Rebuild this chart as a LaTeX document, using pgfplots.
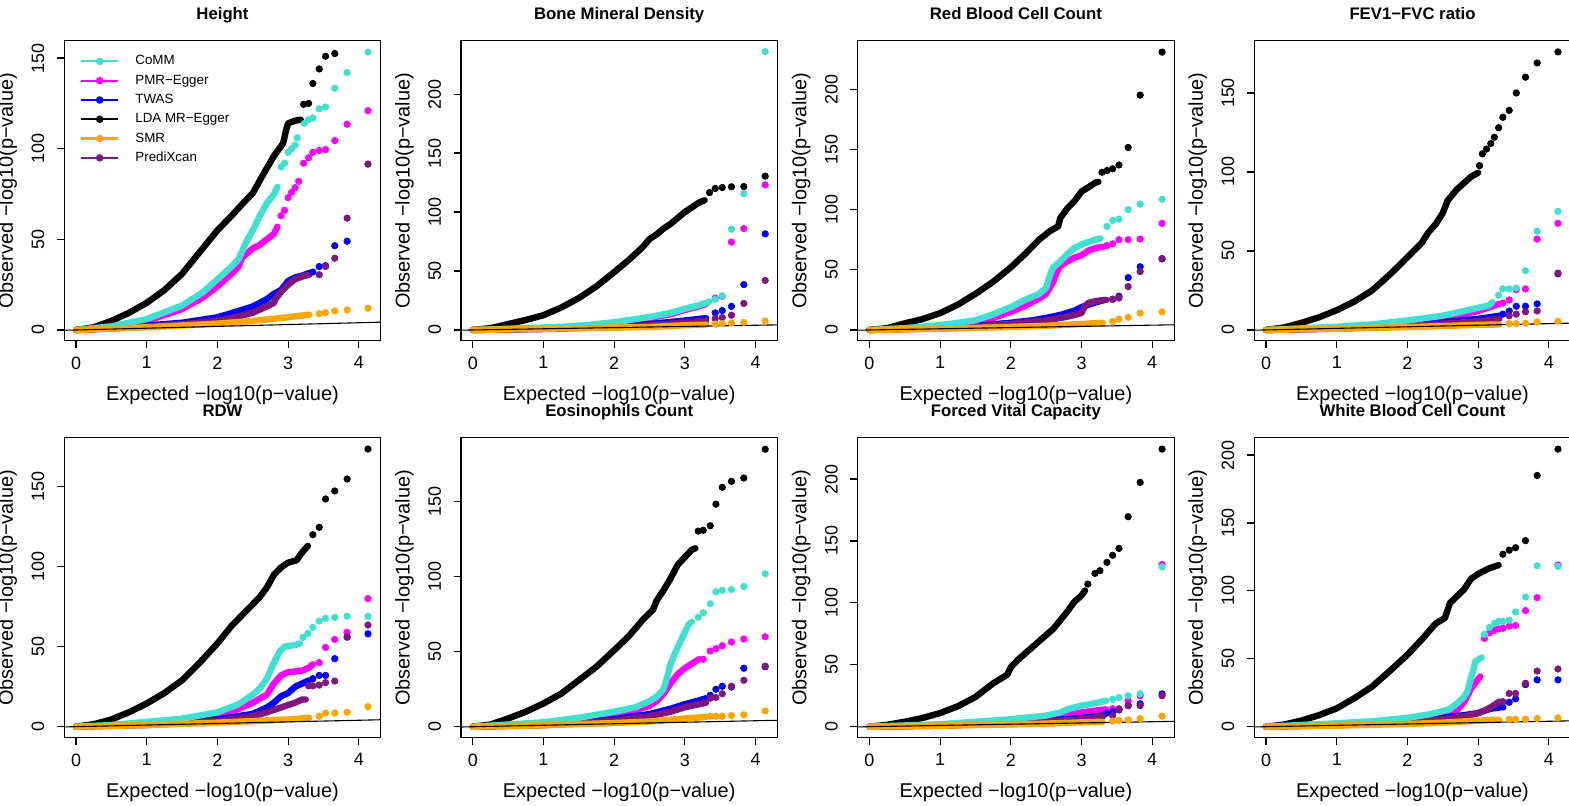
\documentclass[border=0pt]{standalone}
\usepackage{pgfplots}
\pgfplotsset{compat=1.18}
\usepackage{fontspec}
\setmainfont{Liberation Sans}
\definecolor{cCoMM}{RGB}{64,224,208}
\definecolor{cPMR}{RGB}{255,0,255}
\definecolor{cTWAS}{RGB}{0,0,255}
\definecolor{cLDA}{RGB}{0,0,0}
\definecolor{cSMR}{RGB}{255,165,0}
\definecolor{cPX}{RGB}{128,22,128}
\pgfplotsset{
  qq/.style={
    width=158.2bp, height=150bp, scale only axis, anchor=south west,
    xmin=-0.166, xmax=4.31, xtick={0,1,2,3,4},
    tick align=outside, xtick pos=left, ytick pos=left,
    major tick length=3.75bp,
    axis line style={line width=0.6bp},
    every tick/.style={black, line width=0.6bp},
    /pgf/number format/assume math mode=true,
    tick label style={font=\fontsize{9}{10}\selectfont, inner sep=0pt},
    yticklabel style={rotate=90, anchor=south},
    xticklabel style={anchor=north},
    xticklabel shift=4bp, yticklabel shift=6bp,
    xlabel={Expected −log10(p−value)},
    ylabel={Observed −log10(p−value)},
    label style={font=\fontsize{10}{12}\selectfont},
    every axis x label/.style={at={([yshift=-27.5bp]axis description cs:0.5,0)}, anchor=center},
    every axis y label/.style={at={([xshift=-28.25bp]axis description cs:0,0.5)}, rotate=90, anchor=center},
    title style={at={([yshift=4.65bp]axis description cs:0.5,1)}, anchor=base, font=\bfseries\fontsize{8.4}{10}\selectfont},
  },
  dense/.style={no markers, line width=3.2bp, line cap=round, line join=round, forget plot},
  tail/.style={only marks, mark=*, mark size=1.6bp, forget plot},
}
\newcommand{\qq}[3]{%
  \addplot[dense,#1] coordinates {#2};
  \addplot[tail,#1] coordinates {#3};}
\newcommand{\diag}{\addplot[black, line width=0.55bp, forget plot] coordinates {(-0.3,-0.3) (4.5,4.5)};}
\begin{document}
\begin{tikzpicture}
\path[use as bounding box] (0,0) rectangle (784.5bp,403bp);
% ---------- Panel 1: Height ----------
\begin{axis}[qq, at={(32.15bp,232.65bp)}, ymin=-5.9, ymax=159.6, ytick={0,50,100,150}, title={Height},
  legend cell align=left,
  legend image code/.code={\draw[mark repeat=2, mark phase=2, #1] plot coordinates {(0bp,0bp) (9.3bp,0bp) (18.6bp,0bp)};},
  legend style={draw=none, fill=none, inner sep=0pt, outer sep=0pt,
    at={(axis description cs:0,1)}, anchor=north west, xshift=7.85bp, yshift=-6.85bp,
    row sep=2.65bp, font=\fontsize{6.7}{8}\selectfont,
    nodes={inner sep=0pt, text height=5.3bp, text depth=1.7bp},
    /tikz/every odd column/.append style={column sep=8bp}}]
\addlegendimage{cCoMM, line width=1.1bp, mark=*, mark size=1.3bp}\addlegendentry{CoMM}
\addlegendimage{cPMR, line width=1.1bp, mark=*, mark size=1.3bp}\addlegendentry{PMR−Egger}
\addlegendimage{cTWAS, line width=1.1bp, mark=*, mark size=1.3bp}\addlegendentry{TWAS}
\addlegendimage{cLDA, line width=1.1bp, mark=*, mark size=1.3bp}\addlegendentry{LDA MR−Egger}
\addlegendimage{cSMR, line width=1.1bp, mark=*, mark size=1.3bp}\addlegendentry{SMR}
\addlegendimage{cPX, line width=1.1bp, mark=*, mark size=1.3bp}\addlegendentry{PrediXcan}
\qq{cPMR}{(0,0) (0.5,1.5) (1,5) (1.5,11.5) (1.8,18) (2,24) (2.2,31) (2.3,35) (2.35,40) (2.5,45) (2.6,47) (2.7,50) (2.8,53) (2.85,57)}
  {(2.9,63) (2.95,66) (3.0,73) (3.05,76) (3.1,78.5) (3.15,82) (3.22,92) (3.29,95) (3.35,98) (3.44,99) (3.53,99.5) (3.66,104.5) (3.835,113.5) (4.13,121)}
\qq{cTWAS}{(0,0) (0.5,1) (1,2.5) (1.5,4) (2,7) (2.3,10.5) (2.5,13) (2.7,17) (2.8,20) (2.9,22) (3.0,27) (3.1,29) (3.2,30) (3.3,31.5)}
  {(3.35,32) (3.44,35) (3.53,35.5) (3.66,46.5) (3.835,49)}
\qq{cPX}{(0,0) (0.5,0.8) (1,2) (1.5,3.2) (2,5) (2.3,7.5) (2.5,9.5) (2.7,13) (2.8,15) (2.82,17) (2.9,21) (3.0,25) (3.1,28) (3.2,29.5) (3.3,30.5)}
  {(3.44,30.5) (3.53,35) (3.66,39.6) (3.835,61.7) (4.13,91.5)}
\qq{cLDA}{(0,0) (0.25,1.5) (0.5,5) (0.75,9.5) (1,15) (1.25,22) (1.5,31) (1.75,43) (2,55) (2.2,63) (2.4,71.5) (2.5,75.5) (2.65,86) (2.8,96) (2.93,103) (2.97,110) (3.0,114) (3.1,115.5) (3.18,116)}
  {(3.22,124.5) (3.29,125) (3.35,136) (3.44,144) (3.53,151) (3.66,152.5)}
\qq{cCoMM}{(0,0) (0.5,2) (1,6) (1.5,13.5) (1.8,21) (2,28) (2.2,35) (2.3,39) (2.4,48) (2.5,55) (2.6,63) (2.7,70) (2.8,75) (2.85,79)}
  {(2.9,90) (2.95,92) (3.0,98) (3.05,100) (3.1,102) (3.13,106) (3.23,114) (3.29,116) (3.35,117) (3.44,122) (3.53,123) (3.66,133.4) (3.835,142) (4.13,153.3)}
\qq{cSMR}{(0,0) (0.5,0.8) (1,1.5) (1.5,2.5) (2,3.5) (2.5,5) (3,7) (3.3,8.5)}
  {(3.44,9) (3.53,9.5) (3.66,10.5) (3.835,11) (4.13,12)}
\diag
\end{axis}
% ---------- Panel 2: Bone Mineral Density ----------
\begin{axis}[qq, at={(230.5bp,232.65bp)}, ymin=-9.1, ymax=245.3, ytick={0,50,100,150,200}, title={Bone Mineral Density}]
\qq{cPMR}{(0,0) (1,1.5) (1.5,3) (2,6) (2.5,10) (2.8,13.5) (3,17) (3.2,20) (3.3,22)}
  {(3.43,27) (3.53,28.5) (3.66,74.5) (3.835,86) (4.137,123)}
\qq{cTWAS}{(0,0) (1,1) (2,3) (2.5,5) (3,8) (3.3,10)}
  {(3.43,14.5) (3.53,16.5) (3.66,20) (3.835,38.5) (4.137,81.5)}
\qq{cPX}{(0,0) (1,0.8) (2,2.5) (2.5,4) (3,6) (3.3,8)}
  {(3.43,9.5) (3.53,10.5) (3.66,12.5) (3.835,22.5) (4.137,42)}
\qq{cLDA}{(0,0) (0.25,1.5) (0.5,5) (0.75,8.5) (1,12.5) (1.25,19) (1.5,27) (1.75,37) (2,49) (2.2,59) (2.4,70) (2.5,77) (2.6,81) (2.7,86) (2.8,90) (2.9,95) (3.0,100) (3.1,104) (3.2,108) (3.28,110)}
  {(3.35,116.5) (3.43,120) (3.53,120.8) (3.66,121.4) (3.835,121.6) (4.137,130.4)}
\qq{cCoMM}{(0,0) (1,2) (1.5,3.5) (2,6.5) (2.5,11) (2.8,14.5) (3,18) (3.2,21) (3.35,24)}
  {(3.43,26) (3.53,29) (3.66,85.5) (3.835,115.5) (4.137,236)}
\qq{cSMR}{(0,0) (1,1) (2,2) (2.5,2.5) (3,4) (3.3,4.5)}
  {(3.43,5) (3.53,5.5) (3.66,6) (3.835,6.5) (4.137,7.5)}
\diag
\end{axis}
% ---------- Panel 3: Red Blood Cell Count ----------
\begin{axis}[qq, at={(428.85bp,232.65bp)}, ymin=-8.9, ymax=240.2, ytick={0,50,100,150,200}, title={Red Blood Cell Count}]
\qq{cPMR}{(0,0) (0.5,1) (1,3) (1.5,6) (1.75,10) (2,15) (2.2,20) (2.4,26) (2.5,30) (2.6,40) (2.65,48) (2.7,53) (2.8,57) (2.9,60) (3,62) (3.1,66) (3.2,68) (3.3,69)}
  {(3.36,70) (3.44,71.5) (3.53,75) (3.66,75) (3.83,75.5) (4.14,88.5)}
\qq{cTWAS}{(0,0) (1,2) (1.5,3.5) (2,6) (2.3,8) (2.5,10) (2.7,12.5) (2.9,16) (3.0,19) (3.1,21) (3.2,23) (3.3,24.5)}
  {(3.44,25.5) (3.53,28) (3.66,43.5) (3.83,52.5) (4.14,59)}
\qq{cPX}{(0,0) (1,1.5) (1.5,3) (2,5) (2.5,8) (2.8,11) (3,14) (3.05,20) (3.1,22.5) (3.2,24) (3.35,25)}
  {(3.44,25.5) (3.53,26.5) (3.66,36) (3.83,48.5) (4.14,59.3)}
\qq{cLDA}{(0,0) (0.25,1.5) (0.5,5.5) (0.75,9) (1,14) (1.25,21) (1.5,30) (1.75,40) (2,52) (2.2,63) (2.4,75) (2.55,82) (2.67,86) (2.7,93) (2.8,101) (2.9,107) (3.0,115) (3.1,118.5) (3.2,122.5) (3.24,123)}
  {(3.29,131) (3.36,132.4) (3.44,133.8) (3.53,137) (3.66,151.5) (3.83,195) (4.14,230.7)}
\qq{cCoMM}{(0,0) (0.5,1.5) (1,4) (1.5,8) (1.75,13) (2,19) (2.2,25) (2.4,30) (2.5,35) (2.55,45) (2.6,52) (2.7,57) (2.8,63) (2.9,68) (3,71) (3.1,73) (3.2,75) (3.27,76)}
  {(3.36,86) (3.44,91) (3.53,92) (3.66,100) (3.83,104.5) (4.14,108.5)}
\qq{cSMR}{(0,0) (1,1) (2,2.5) (2.5,3.5) (3,5) (3.3,6)}
  {(3.44,7) (3.53,9) (3.66,10.5) (3.83,14) (4.14,15)}
\diag
\end{axis}
% ---------- Panel 4: FEV1-FVC ratio ----------
\begin{axis}[qq, at={(627.15bp,232.65bp)}, ymin=-6.8, ymax=183.1, ytick={0,50,100,150}, title={FEV1−FVC ratio}]
\qq{cPMR}{(0,0) (1,1.5) (1.5,3) (2,5) (2.5,7.5) (2.8,10) (3,12) (3.2,15) (3.3,16.5)}
  {(3.35,17) (3.44,19) (3.54,25.5) (3.67,26) (3.835,57.5) (4.13,67.5)}
\qq{cTWAS}{(0,0) (1,1) (2,3) (2.5,5) (3,7) (3.3,9)}
  {(3.35,10) (3.44,12) (3.54,15) (3.67,15) (3.835,16.5) (4.13,35.5)}
\qq{cPX}{(0,0) (1,0.8) (2,2.5) (2.5,4) (3,5.5) (3.3,7)}
  {(3.44,9) (3.54,10) (3.67,11.5) (3.835,12) (4.13,36)}
\qq{cLDA}{(0,0) (0.25,1.5) (0.5,4.5) (0.75,8) (1,12.5) (1.25,18) (1.5,25) (1.75,35) (2,46) (2.2,55) (2.3,62) (2.4,67) (2.5,74) (2.57,82) (2.7,89) (2.8,93) (2.9,97) (3.0,99.5)}
  {(3.02,104) (3.06,111.5) (3.12,114.5) (3.18,118) (3.23,122) (3.29,128) (3.35,134.6) (3.44,139) (3.54,150) (3.67,160) (3.835,169) (4.13,176)}
\qq{cCoMM}{(0,0) (1,2) (1.5,3.5) (2,6) (2.5,9) (2.8,12) (3,14) (3.15,15.5) (3.2,17.5)}
  {(3.29,22) (3.35,26) (3.44,26) (3.54,26.5) (3.67,37.5) (3.835,62.5) (4.13,75)}
\qq{cSMR}{(0,0) (1,0.8) (2,1.8) (2.5,2.5) (3,3.2) (3.3,3.5)}
  {(3.44,4) (3.54,4) (3.67,4.2) (3.835,5) (4.13,5.5)}
\diag
\end{axis}
% ---------- Panel 5: RDW ----------
\begin{axis}[qq, at={(32.15bp,34.15bp)}, ymin=-6.9, ymax=180.6, ytick={0,50,100,150}, title={RDW}]
\qq{cPMR}{(0,0) (1,2) (1.5,4) (2,7.5) (2.3,11) (2.5,15) (2.7,20) (2.8,27) (2.9,32) (3.0,34) (3.2,35) (3.3,37) (3.35,39)}
  {(3.44,40) (3.53,49.5) (3.66,54.5) (3.835,59) (4.13,80)}
\qq{cTWAS}{(0,0) (1,1.5) (2,4.5) (2.5,8) (2.7,12) (2.8,15) (2.9,19) (3.0,21) (3.1,25) (3.2,27) (3.3,29)}
  {(3.35,30) (3.44,32) (3.53,32) (3.66,42.5) (3.835,56) (4.13,58)}
\qq{cPX}{(0,0) (1,1) (2,3.5) (2.5,6.5) (2.7,9) (2.9,12) (3.0,13.5) (3.1,15) (3.2,17) (3.25,17)}
  {(3.29,25.5) (3.35,25.5) (3.44,26) (3.53,27.5) (3.66,28.5) (3.835,56) (4.13,63.5)}
\qq{cLDA}{(0,0) (0.25,1.5) (0.5,4.5) (0.75,9) (1,14.5) (1.25,21) (1.5,29) (1.75,40) (2,52) (2.2,63) (2.4,72) (2.6,81) (2.7,87) (2.8,95) (2.9,99.5) (3.0,102.5) (3.12,104) (3.2,109) (3.28,113)}
  {(3.35,120) (3.44,124.6) (3.53,142.3) (3.66,147.3) (3.835,154.8) (4.13,173.5)}
\qq{cCoMM}{(0,0) (0.5,1) (1,3) (1.5,5) (2,9) (2.3,14) (2.5,20) (2.6,24) (2.7,30) (2.8,40) (2.88,47) (2.95,50) (3.1,51) (3.17,52)}
  {(3.21,55.8) (3.28,58.3) (3.35,62) (3.44,66) (3.53,67.7) (3.66,68.3) (3.835,69) (4.13,69)}
\qq{cSMR}{(0,0) (1,1) (2,2.5) (2.5,3.5) (3,4.5) (3.3,5.5)}
  {(3.44,6.5) (3.53,8.5) (3.66,8.5) (3.835,9) (4.13,12.5)}
\diag
\end{axis}
% ---------- Panel 6: Eosinophils Count ----------
\begin{axis}[qq, at={(230.5bp,34.15bp)}, ymin=-7.3, ymax=192.7, ytick={0,50,100,150}, title={Eosinophils Count}]
\qq{cPMR}{(0,0) (1,2) (1.5,4.5) (2,8) (2.3,11) (2.5,14) (2.6,17) (2.7,22) (2.8,29) (2.9,35) (3.0,39) (3.1,42) (3.2,45)}
  {(3.26,45) (3.36,50.5) (3.44,52) (3.53,54) (3.66,56.5) (3.835,58.5) (4.137,60)}
\qq{cTWAS}{(0,0) (1,1.5) (2,5) (2.5,8.5) (2.8,12) (3.0,15) (3.2,17.5) (3.3,19)}
  {(3.36,21) (3.44,25) (3.53,27) (3.66,26.5) (3.835,39) (4.137,40)}
\qq{cPX}{(0,0) (1,1) (2,4) (2.5,7) (2.8,10) (3.0,13) (3.2,15) (3.3,16)}
  {(3.36,19) (3.44,19.5) (3.53,22) (3.66,27) (3.835,31) (4.137,40.4)}
\qq{cLDA}{(0,0) (0.25,1.5) (0.5,5.5) (0.75,10) (1,15.5) (1.25,22) (1.5,31) (1.75,40) (2,51) (2.2,60) (2.4,71) (2.55,78) (2.6,84) (2.7,91) (2.8,99) (2.9,108) (3.0,113) (3.1,118) (3.15,119)}
  {(3.19,130.4) (3.26,131) (3.36,134) (3.44,148.4) (3.53,159.6) (3.66,163.6) (3.835,165.8) (4.137,185)}
\qq{cCoMM}{(0,0) (1,3) (1.5,6) (2,10) (2.3,13) (2.5,17) (2.6,20) (2.7,25) (2.75,33) (2.8,42) (2.87,50) (2.92,55) (3.0,63) (3.05,68) (3.1,70)}
  {(3.19,73) (3.26,76) (3.36,82) (3.44,90) (3.53,91) (3.66,91.5) (3.835,93.5) (4.137,102)}
\qq{cSMR}{(0,0) (1,1) (2,2.5) (2.5,3.5) (3,5.5) (3.3,6.5)}
  {(3.36,7) (3.44,7) (3.53,7) (3.66,7.5) (3.835,8) (4.137,10.5)}
\diag
\end{axis}
% ---------- Panel 7: Forced Vital Capacity ----------
\begin{axis}[qq, at={(428.85bp,34.15bp)}, ymin=-8.9, ymax=233.4, ytick={0,50,100,150,200}, title={Forced Vital Capacity}]
\qq{cPMR}{(0,0) (1,1.5) (2,4.5) (2.5,7) (2.8,9.5) (3.0,11.5) (3.2,13) (3.35,14)}
  {(3.44,14.5) (3.53,14.5) (3.66,21) (3.83,25) (4.14,131)}
\qq{cTWAS}{(0,0) (1,1) (2,3) (2.5,5) (3,7) (3.3,9) (3.36,11)}
  {(3.44,12) (3.53,13.5) (3.66,17) (3.83,18.5) (4.14,26.5)}
\qq{cPX}{(0,0) (1,0.8) (2,2.5) (2.5,4) (3,6) (3.3,8)}
  {(3.44,9) (3.53,14) (3.66,17) (3.83,17) (4.14,25)}
\qq{cLDA}{(0,0) (0.25,1.5) (0.5,4) (0.75,7) (1,11) (1.25,16.5) (1.5,24) (1.75,35) (1.95,42) (2.0,48) (2.1,54) (2.3,64) (2.5,74) (2.6,79) (2.7,86) (2.8,93) (2.9,101) (3.0,106) (3.05,110)}
  {(3.09,115.2) (3.19,123.8) (3.26,126) (3.36,132.7) (3.44,138.4) (3.53,144) (3.66,169.6) (3.83,197.3) (4.14,224.2)}
\qq{cCoMM}{(0,0) (1,2) (1.5,4) (2,6) (2.5,9) (2.7,11.5) (2.8,14) (3.0,17) (3.2,19) (3.35,21)}
  {(3.44,22) (3.53,23.5) (3.66,25) (3.83,26.5) (4.14,129)}
\qq{cSMR}{(0,0) (1,0.8) (2,1.8) (2.5,2.5) (3,3.5) (3.3,4)}
  {(3.44,4.5) (3.53,5) (3.66,5.5) (3.83,6.5) (4.14,8.5)}
\diag
\end{axis}
% ---------- Panel 8: White Blood Cell Count ----------
\begin{axis}[qq, at={(627.15bp,34.15bp)}, ymin=-8.1, ymax=212.8, ytick={0,50,100,150,200}, title={White Blood Cell Count}]
\qq{cPMR}{(0,0) (1,2) (1.5,3.5) (2,5.5) (2.5,8.5) (2.7,12) (2.8,18) (2.9,28) (3.0,35) (3.03,37)}
  {(3.09,65) (3.16,69) (3.23,71) (3.29,72) (3.35,72.5) (3.44,74) (3.53,74.5) (3.67,85.5) (3.835,95) (4.13,119)}
\qq{cTWAS}{(0,0) (1,1.5) (2,4) (2.5,6.5) (2.8,8.5) (3.0,10) (3.1,12) (3.2,13.5) (3.3,14)}
  {(3.35,14.5) (3.44,18) (3.53,20.5) (3.67,31) (3.835,34.5) (4.13,34.5)}
\qq{cPX}{(0,0) (1,1) (2,3.5) (2.5,5.5) (2.8,7.5) (3.0,10) (3.1,12) (3.2,15) (3.3,18.5)}
  {(3.35,18.5) (3.44,24.5) (3.53,24.5) (3.67,32) (3.835,41) (4.13,42.5)}
\qq{cLDA}{(0,0) (0.25,1.5) (0.5,4.5) (0.75,8.5) (1,13.5) (1.25,21) (1.5,29.5) (1.75,41) (2,53) (2.2,64) (2.4,76) (2.53,80) (2.6,91) (2.7,96) (2.8,101) (2.9,109) (3.0,112.5) (3.15,116.5) (3.29,119)}
  {(3.35,127) (3.44,130) (3.53,131.8) (3.67,137) (3.835,185) (4.13,204.4)}
\qq{cCoMM}{(0,0) (1,2.5) (1.5,4) (2,6.5) (2.3,9) (2.5,11.5) (2.6,13) (2.7,17) (2.8,22) (2.85,26) (2.9,36) (2.93,41) (2.96,48) (3.05,51)}
  {(3.09,68) (3.16,73) (3.23,76) (3.29,77.5) (3.35,77.5) (3.44,78.5) (3.53,84.5) (3.67,95.5) (3.835,118.5) (4.13,118)}
\qq{cSMR}{(0,0) (1,0.8) (2,2) (2.5,3) (3,4.5) (3.3,5)}
  {(3.44,5.5) (3.53,5.5) (3.67,5.5) (3.835,6) (4.13,6.5)}
\diag
\end{axis}
\end{tikzpicture}
\end{document}
